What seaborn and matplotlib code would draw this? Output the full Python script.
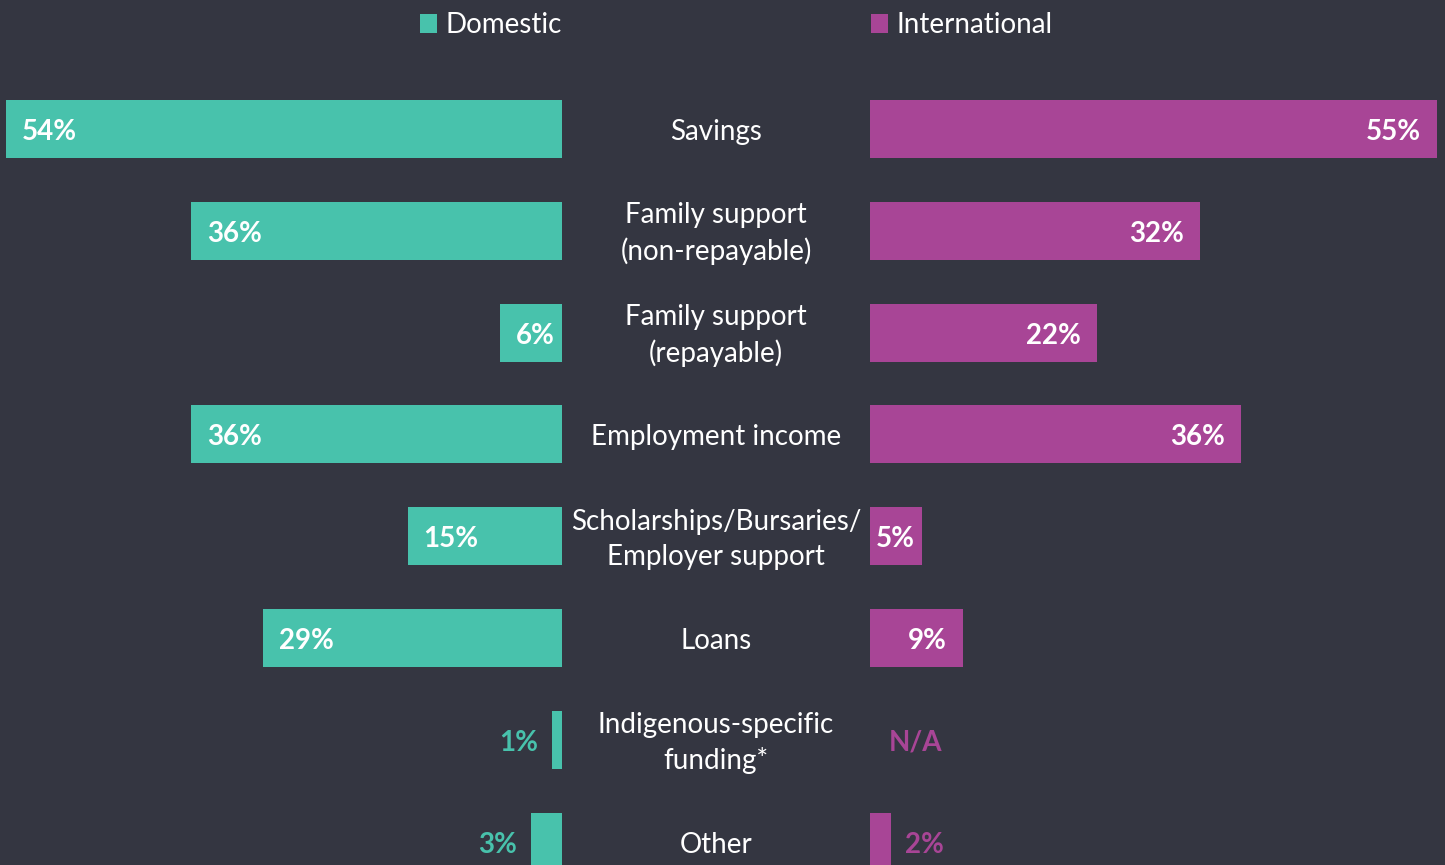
import numpy as np
import pandas as pd
import matplotlib
matplotlib.use("Agg")
import matplotlib.pyplot as plt
import matplotlib.transforms as mtransforms
import seaborn as sns

# === Data ===
categories = [
    "Savings",
    "Family support\n(non-repayable)",
    "Family support\n(repayable)",
    "Employment income",
    "Scholarships/Bursaries/\nEmployer support",
    "Loans",
    "Indigenous-specific\nfunding*",
    "Other",
]
domestic = [54, 36, 6, 36, 15, 29, 1, 3]
international = [55, 32, 22, 36, 5, 9, np.nan, 2]
series_names = ["Domestic", "International"]

# === Style ===
bg = "#343641"
teal = "#48C2AC"
magenta = "#A84596"
sns.set_theme(style="white")
plt.rcParams["font.family"] = ["Lato", "DejaVu Sans"]

W, H = 1445, 865
fig = plt.figure(figsize=(W / 100, H / 100), dpi=100, facecolor=bg)

px_per_pct = 10.3
left_edge, right_start = 562, 870
ax_l = fig.add_axes([0, 0, left_edge / W, 1])
ax_r = fig.add_axes([right_start / W, 0, (W - right_start) / W, 1])

df_l = pd.DataFrame({"cat": categories, "val": domestic})
df_r = pd.DataFrame({"cat": categories, "val": international})

sns.barplot(data=df_l, x="val", y="cat", order=categories, ax=ax_l, color=teal,
            saturation=1, width=0.57, linewidth=0, orient="h")
sns.barplot(data=df_r, x="val", y="cat", order=categories, ax=ax_r, color=magenta,
            saturation=1, width=0.57, linewidth=0, orient="h")

y_top = -129 / 101.8
y_bot = (H - 129) / 101.8
for ax in (ax_l, ax_r):
    ax.set_facecolor(bg)
    ax.set_ylim(y_bot, y_top)
    ax.set_xlabel("")
    ax.set_ylabel("")
    ax.set_xticks([])
    ax.set_yticks([])
    for s in ax.spines.values():
        s.set_visible(False)
ax_l.set_xlim(left_edge / px_per_pct, 0)
ax_r.set_xlim(0, (W - right_start) / px_per_pct)

fs = 20
dy = -3 * 0.72  # nudge text down a little
pt = 0.72

# value labels
def label_bars(ax, vals, color, sign):
    for i, v in enumerate(vals):
        if np.isnan(v):
            ax.annotate("N/A", (0, i), xytext=(19 * pt, dy), textcoords="offset points",
                        ha="left", va="center", color=color, fontsize=fs, fontweight="bold")
            continue
        txt = f"{v:g}%"
        if v >= 6:
            ha = "left" if sign < 0 else "right"
            ax.annotate(txt, (v, i), xytext=(-sign * 16 * pt, dy), textcoords="offset points",
                        ha=ha, va="center", color="white", fontsize=fs, fontweight="bold")
        elif v >= 4:
            ax.annotate(txt, (v / 2, i), xytext=(0, dy), textcoords="offset points",
                        ha="center", va="center", color="white",
                        fontsize=fs, fontweight="bold")
        else:
            ha = "right" if sign < 0 else "left"
            ax.annotate(txt, (v, i), xytext=(sign * 14 * pt, dy), textcoords="offset points",
                        ha=ha, va="center", color=color, fontsize=fs, fontweight="bold")

label_bars(ax_l, domestic, teal, -1)
label_bars(ax_r, international, magenta, 1)

# category labels in the middle
trans = mtransforms.blended_transform_factory(fig.transFigure, ax_l.transData)
trans = trans + mtransforms.ScaledTranslation(0, -3 / 100, fig.dpi_scale_trans)
for i, c in enumerate(categories):
    ax_l.text(716 / W, i, c, transform=trans, ha="center", va="center",
              color="white", fontsize=fs, linespacing=1.42, clip_on=False)

# legends
h_l = ax_l.patches[0]
h_r = ax_r.patches[0]
for h, name, xpos in [(h_l, series_names[0], 420), (h_r, series_names[1], 871)]:
    fig.legend([h], [name], loc="center left", bbox_to_anchor=(xpos / W, 1 - 25 / H),
               frameon=False, fontsize=fs, labelcolor="white", handlelength=0.62,
               handleheight=0.68, handletextpad=0.3, borderpad=0, borderaxespad=0)

fig.savefig("out.png", dpi=100, facecolor=bg)
